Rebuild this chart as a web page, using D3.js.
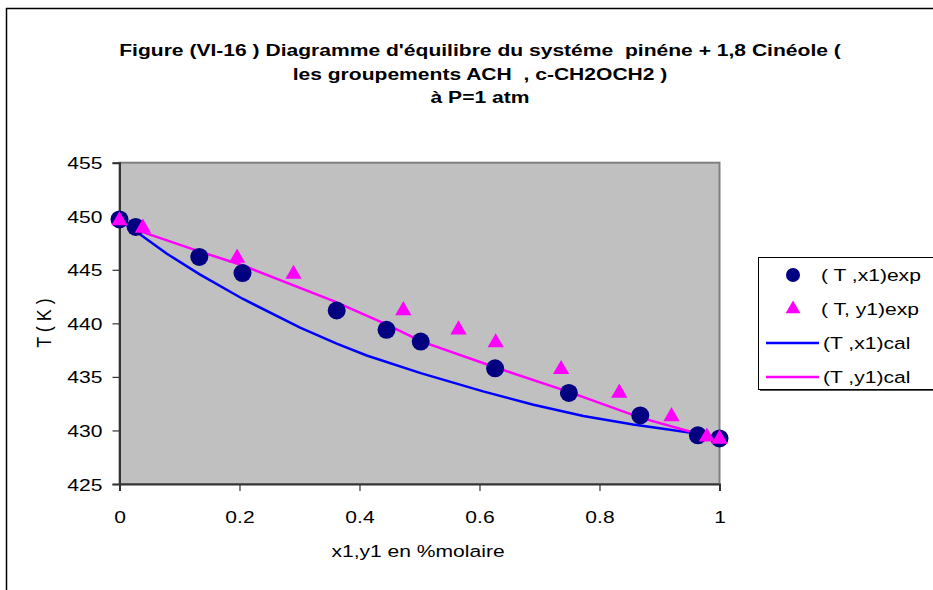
<!DOCTYPE html>
<html>
<head>
<meta charset="utf-8">
<script src="https://cdn.jsdelivr.net/npm/d3@7"></script>
<style>
  body { margin: 0; background: #fff; }
  svg { display: block; font-family: "Liberation Sans", Arial, sans-serif; }
  text { white-space: pre; }
</style>
</head>
<body>
<div id="chart"></div>
<script>
// Data
const titleLines = [
  "Figure (VI-16 ) Diagramme d'équilibre du systéme  pinéne + 1,8 Cinéole (",
  "les groupements ACH  , c-CH2OCH2 )",
  "à P=1 atm"
];
const xTicks = [0, 0.2, 0.4, 0.6, 0.8, 1];
const yTicks = [425, 430, 435, 440, 445, 450, 455];

// (T, x1) exp
const x1Exp = [0, 0.027, 0.133, 0.205, 0.362, 0.445, 0.502, 0.626, 0.749, 0.868, 0.964, 1.0];
const tX1Exp = [449.7, 449.0, 446.2, 444.7, 441.2, 439.4, 438.3, 435.8, 433.5, 431.4, 429.55, 429.25];

// (T, y1) exp
const y1Exp = [0, 0.039, 0.196, 0.29, 0.473, 0.565, 0.627, 0.736, 0.833, 0.92, 0.979, 1.0];
const tY1Exp = [449.6, 448.9, 446.1, 444.6, 441.2, 439.4, 438.2, 435.7, 433.5, 431.3, 429.4, 429.2];

// (T, x1) cal
const x1Cal = [0, 0.027, 0.079, 0.133, 0.205, 0.301, 0.362, 0.412, 0.502, 0.606, 0.69, 0.773, 0.856, 0.912, 0.964, 1.0];
const tX1Cal = [449.6, 448.6, 446.5, 444.6, 442.3, 439.6, 438.1, 437.0, 435.35, 433.65, 432.4, 431.35, 430.55, 430.12, 429.68, 429.27];

// (T, y1) cal
const y1Cal = [0, 0.029, 0.134, 0.206, 0.356, 0.445, 0.504, 0.626, 0.749, 0.868, 0.964, 1.0];
const tY1Cal = [449.6, 448.7, 446.7, 445.4, 442.1, 439.9, 438.3, 435.9, 433.6, 431.2, 429.7, 429.24];

const legendItems = [
  { label: "( T ,x1)exp", type: "circle" },
  { label: "( T, y1)exp", type: "triangle" },
  { label: "(T ,x1)cal", type: "line", color: "#0000ff" },
  { label: "(T ,y1)cal", type: "line", color: "#ff00ff" }
];

const W = 933, H = 590;
const plot = { left: 119.5, top: 162.7, right: 719.5, bottom: 484 };
const FS = 17;      // font size
const SX = 1.24;    // the picture's text is stretched sideways

const svg = d3.select("#chart")
  .append("svg")
  .attr("width", W)
  .attr("height", H);

// chart frame (runs past the window on right and bottom)
svg.append("rect")
  .attr("x", 6.5).attr("y", 8.5)
  .attr("width", 980).attr("height", 640)
  .attr("fill", "#fff")
  .attr("stroke", "#000")
  .attr("stroke-width", 1.5);

const x = d3.scaleLinear().domain([0, 1]).range([plot.left, plot.right]);
const y = d3.scaleLinear().domain([425, 455]).range([plot.bottom, plot.top]);

// plot area
svg.append("rect")
  .attr("x", plot.left).attr("y", plot.top)
  .attr("width", plot.right - plot.left)
  .attr("height", plot.bottom - plot.top)
  .attr("fill", "#c0c0c0")
  .attr("stroke", "#808080")
  .attr("stroke-width", 2);

// X axis
const xAxis = svg.append("g")
  .attr("transform", `translate(0,${plot.bottom})`)
  .call(d3.axisBottom(x).tickValues(xTicks).tickSize(7).tickPadding(0)
    .tickFormat(d => d === 0 || d === 1 ? d3.format("d")(d) : d3.format(".1f")(d)));
xAxis.select(".domain").attr("stroke", "#333").attr("stroke-width", 2);
xAxis.selectAll(".tick line").attr("stroke", "#333").attr("stroke-width", 1.2);
xAxis.selectAll("text")
  .attr("font-size", FS).attr("fill", "#000")
  .attr("font-family", "Liberation Sans, Arial, sans-serif")
  .attr("y", null).attr("dy", null)
  .attr("transform", `translate(0,39) scale(${SX},1)`);

// Y axis
const yAxis = svg.append("g")
  .attr("transform", `translate(${plot.left},0)`)
  .call(d3.axisLeft(y).tickValues(yTicks).tickSize(7).tickPadding(0));
yAxis.select(".domain").attr("stroke", "#333").attr("stroke-width", 2);
yAxis.selectAll(".tick line").attr("stroke", "#333").attr("stroke-width", 1.2);
yAxis.selectAll("text")
  .attr("font-size", FS).attr("fill", "#000")
  .attr("font-family", "Liberation Sans, Arial, sans-serif")
  .attr("x", null).attr("dy", null)
  .attr("transform", `translate(-17,6) scale(${SX},1)`);

// lines
const line = d3.line().x(d => x(d[0])).y(d => y(d[1]));
svg.append("path")
  .datum(d3.zip(x1Cal, tX1Cal))
  .attr("fill", "none")
  .attr("stroke", "#0000ff")
  .attr("stroke-width", 2.5)
  .attr("d", line);
svg.append("path")
  .datum(d3.zip(y1Cal, tY1Cal))
  .attr("fill", "none")
  .attr("stroke", "#ff00ff")
  .attr("stroke-width", 2.5)
  .attr("d", line);

// (T, x1) exp circles
svg.append("g").selectAll("circle")
  .data(d3.zip(x1Exp, tX1Exp))
  .enter().append("circle")
  .attr("cx", d => x(d[0]))
  .attr("cy", d => y(d[1]))
  .attr("r", 9)
  .attr("fill", "#000080");

// (T, y1) exp triangles
const tri = d3.symbol().type(d3.symbolTriangle).size(115);
svg.append("g").selectAll("path")
  .data(d3.zip(y1Exp, tY1Exp))
  .enter().append("path")
  .attr("transform", d => `translate(${x(d[0])},${y(d[1])})`)
  .attr("d", tri)
  .attr("fill", "#ff00ff");

// title
svg.append("g").selectAll("text")
  .data(titleLines)
  .enter().append("text")
  .attr("transform", (d, i) => `translate(480,${56 + i * 23.5}) scale(${SX},1)`)
  .attr("text-anchor", "middle")
  .attr("font-size", FS)
  .attr("font-weight", "bold")
  .text(d => d);

// axis titles
svg.append("text")
  .attr("transform", `translate(418,557) scale(${SX},1)`)
  .attr("text-anchor", "middle")
  .attr("font-size", FS)
  .text("x1,y1 en %molaire");

svg.append("text")
  .attr("transform", `translate(51,323) rotate(-90) scale(1.06,${SX})`)
  .attr("text-anchor", "middle")
  .attr("font-size", FS)
  .text("T ( K )");

// legend
const lg = svg.append("g").attr("transform", "translate(758,257)");
lg.append("rect")
  .attr("x", 2).attr("y", 2)
  .attr("width", 200).attr("height", 132)
  .attr("fill", "#555");
lg.append("rect")
  .attr("x", 0.5).attr("y", 0.5)
  .attr("width", 200).attr("height", 132)
  .attr("fill", "#fff")
  .attr("stroke", "#000")
  .attr("stroke-width", 1);

const rows = lg.selectAll("g.row")
  .data(legendItems)
  .enter().append("g")
  .attr("class", "row")
  .attr("transform", (d, i) => `translate(0,${18 + i * 34})`);

rows.filter(d => d.type === "circle").append("circle")
  .attr("cx", 35).attr("cy", 0).attr("r", 7)
  .attr("fill", "#000080");
rows.filter(d => d.type === "triangle").append("path")
  .attr("transform", "translate(35,0)")
  .attr("d", d3.symbol().type(d3.symbolTriangle).size(95))
  .attr("fill", "#ff00ff");
rows.filter(d => d.type === "line").append("line")
  .attr("x1", 8).attr("x2", 61)
  .attr("y1", 0).attr("y2", 0)
  .attr("stroke", d => d.color)
  .attr("stroke-width", 2.5);

rows.append("text")
  .attr("transform", d => `translate(${d.type === "line" ? 65 : 63},6) scale(${SX},1)`)
  .attr("font-size", FS)
  .text(d => d.label);
</script>
</body>
</html>
